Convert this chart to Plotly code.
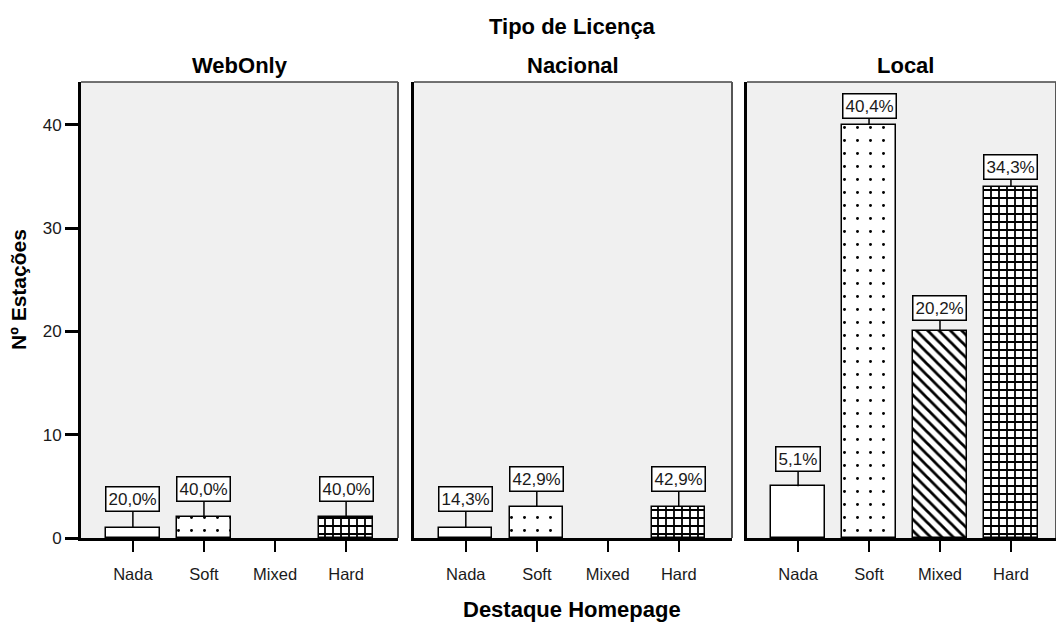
import plotly.graph_objects as go

# Data
licencas = ["WebOnly", "Nacional", "Local"]
destaques = ["Nada", "Soft", "Mixed", "Hard"]
webonly_counts = [1, 2, 0, 2]
nacional_counts = [1, 3, 0, 3]
local_counts = [5, 40, 20, 34]
y_ticks = [0, 10, 20, 30, 40]

counts_by_panel = [webonly_counts, nacional_counts, local_counts]

FONT = "Liberation Sans, Arial, sans-serif"
TEXT = "#1a1a1a"
PATTERNS = {
    "Nada": dict(shape="", bgcolor="white"),
    "Soft": dict(shape=".", fgcolor="black", fgopacity=1, bgcolor="white", size=13,
                 solidity=0.04, fillmode="overlay"),
    "Mixed": dict(shape="\\", fgcolor="black", fgopacity=1, bgcolor="white", size=8,
                  solidity=0.35, fillmode="overlay"),
    "Hard": dict(shape="+", fgcolor="black", fgopacity=1, bgcolor="white", size=8,
                 solidity=0.4, fillmode="overlay"),
}

# pixel layout helpers (plot area: x from 81, y from 82 to 538)
W, H = 1056, 626
L, T, B = 81, 82, 538


def px_x(px):
    return (px - L) / (W - L)


def px_y(py):
    return (B - py) / (B - T)


domains = [
    [px_x(81), px_x(398)],
    [px_x(414), px_x(732)],
    [px_x(747), 1.0],
]
x_ranges = [[-0.73, 3.73], [-0.73, 3.75], [-0.72, 3.635]]
y_range = [0, 44.16]

fig = go.Figure()

for i, counts in enumerate(counts_by_panel):
    suffix = "" if i == 0 else str(i + 1)
    total = sum(counts)
    for cat, val in zip(destaques, counts):
        if val == 0:
            continue
        fig.add_trace(go.Bar(
            x=[cat], y=[val],
            width=0.75,
            marker=dict(color="white", line=dict(color="black", width=1.5),
                        pattern=PATTERNS[cat]),
            xaxis="x" + suffix, yaxis="y" + suffix,
            showlegend=False,
        ))
        pct = f"{100 * val / total:.1f}%".replace(".", ",")
        gap = 14 - 0.25 * val
        fig.add_annotation(
            x=cat, y=val, xref="x" + suffix, yref="y" + suffix,
            text=pct, showarrow=True, arrowhead=0, arrowwidth=1.5,
            arrowcolor="black", standoff=0, ax=0, ay=-(gap + 14.5),
            bgcolor="white", bordercolor="black", borderwidth=1.5, borderpad=2,
            font=dict(family=FONT, size=17, color=TEXT),
        )

axis_common = dict(showgrid=False, zeroline=False)
for i in range(3):
    suffix = "" if i == 0 else str(i + 1)
    fig.update_layout({
        "xaxis" + suffix: dict(
            axis_common, domain=domains[i], range=x_ranges[i],
            type="category", categoryorder="array", categoryarray=destaques,
            anchor="y" + suffix,
            showline=True, linecolor="black", linewidth=2.5,
            ticks="outside", ticklen=11, tickwidth=2, tickcolor="black",
            ticklabelstandoff=8,
            tickfont=dict(family=FONT, size=16.5, color=TEXT),
        ),
        "yaxis" + suffix: dict(
            axis_common, domain=[0, 1], range=y_range,
            anchor="x" + suffix,
            showline=True, linecolor="black", linewidth=3,
            tickvals=y_ticks if i == 0 else [],
            ticks="outside" if i == 0 else "", ticklen=13, tickwidth=2.5, tickcolor="black",
            showticklabels=(i == 0),
            tickfont=dict(family=FONT, size=17, color=TEXT),
        ),
    })
    # top and right panel border
    fig.add_shape(type="line", xref="x" + suffix + " domain", yref="y" + suffix + " domain",
                  x0=0, x1=1, y0=1, y1=1, line=dict(color="#444444", width=1.5))
    fig.add_shape(type="line", xref="x" + suffix + " domain", yref="y" + suffix + " domain",
                  x0=1, x1=1, y0=0, y1=1, line=dict(color="#555555", width=2))
    # panel title
    fig.add_annotation(
        x=sum(domains[i]) / 2 if i < 2 else px_x(905), y=px_y(65),
        xref="paper", yref="paper", xanchor="center", yanchor="middle",
        text="<b>%s</b>" % licencas[i],
        showarrow=False, font=dict(family=FONT, size=22, color="black"),
    )

fig.add_annotation(x=px_x(572), y=px_y(26), xref="paper", yref="paper",
                   xanchor="center", yanchor="middle",
                   text="<b>Tipo de Licença</b>", showarrow=False,
                   font=dict(family=FONT, size=22, color="black"))
fig.add_annotation(x=px_x(572), y=px_y(609), xref="paper", yref="paper",
                   xanchor="center", yanchor="middle",
                   text="<b>Destaque Homepage</b>", showarrow=False,
                   font=dict(family=FONT, size=22, color="black"))
fig.add_annotation(x=px_x(18), y=px_y(290), xref="paper", yref="paper",
                   xanchor="center", yanchor="middle",
                   text="<b>Nº Estações</b>", showarrow=False, textangle=-90,
                   font=dict(family=FONT, size=21, color="black"))

fig.update_layout(
    width=W, height=H,
    margin=dict(l=L, r=0, t=T, b=H - B),
    paper_bgcolor="white",
    plot_bgcolor="#F0F0F0",
    bargap=0,
    showlegend=False,
)

fig.write_html("out.html", config={"displayModeBar": False},
               post_script="document.body.style.margin='0';")
